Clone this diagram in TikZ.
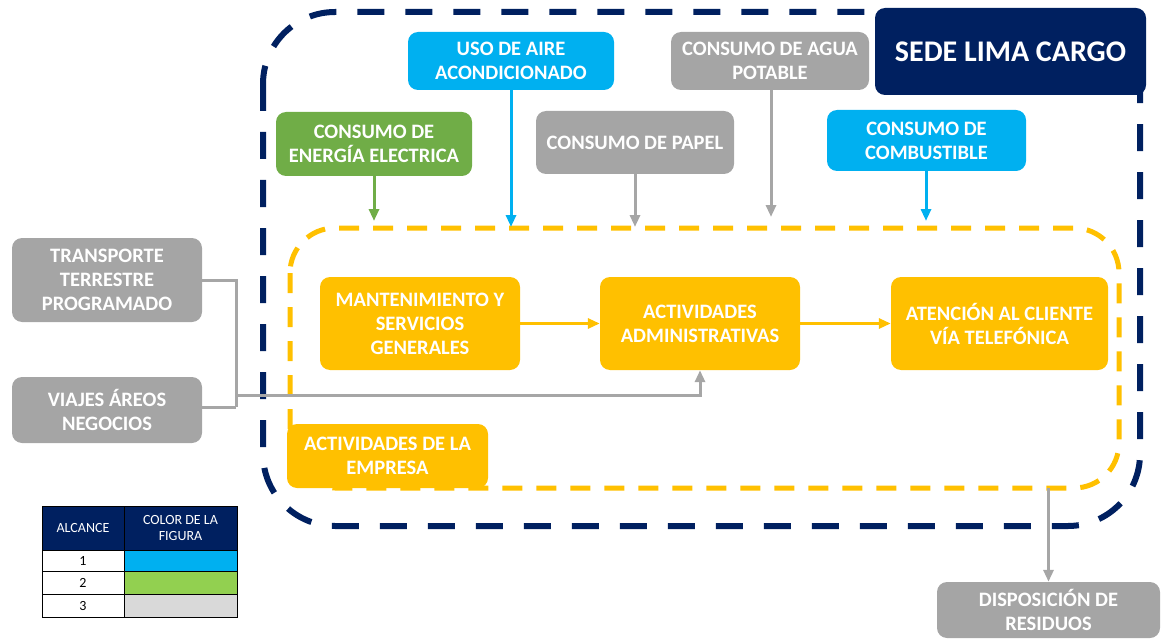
\documentclass[tikz,border=0pt]{standalone}
\usepackage{fontspec}
\setmainfont{Carlito}
\usetikzlibrary{arrows.meta}
\definecolor{navy}{HTML}{002060}
\definecolor{ylw}{HTML}{FFC000}
\definecolor{cyanb}{HTML}{00B0F0}
\definecolor{greenb}{HTML}{70AD47}
\definecolor{grayb}{HTML}{A5A5A5}
\definecolor{grayl}{HTML}{A6A6A6}
\definecolor{lgreen}{HTML}{92D050}
\definecolor{lgray}{HTML}{D9D9D9}
\tikzset{
  box/.style={rounded corners=10pt, inner sep=0pt, text=white, align=center,
    font=\fontsize{20.5}{24}\selectfont\bfseries},
  cbox/.style={box, fill=cyanb},
  gbox/.style={box, fill=greenb},
  graybox/.style={box, fill=grayb},
  ybox/.style={box, fill=ylw},
  tip/.style={-{Triangle[length=12pt,width=10pt]}},
  grayarrow/.style={draw=grayl, line width=3pt, tip},
  lgtext/.style={font=\fontsize{14}{16}\selectfont, align=center, inner sep=0pt},
}
\begin{document}
\begin{tikzpicture}[x=1pt,y=-1pt]
\useasboundingbox (0,0) rectangle (1161,639);
% outer navy dashed frame
\draw[navy, line width=6pt, dash pattern=on 27pt off 21pt, rounded corners=72pt]
  (263,12) rectangle (1140,526);
% inner yellow dashed frame
\draw[ylw, line width=5pt, dash pattern=on 20pt off 14pt, rounded corners=45pt]
  (290,228) rectangle (1119,488);

% title
\node[box, fill=navy, minimum width=271pt, minimum height=87pt,
  font=\fontsize{30}{34}\selectfont\bfseries] (sede) at (1010.5,51.5) {SEDE LIMA CARGO};

% input boxes
\node[cbox, minimum width=206pt, minimum height=58pt] (uso) at (511,61) {USO DE AIRE\\ACONDICIONADO};
\node[gbox, minimum width=196pt, minimum height=64pt] (ene) at (374,144) {CONSUMO DE\\ENERGÍA ELECTRICA};
\node[graybox, minimum width=198pt, minimum height=63pt] (pap) at (635,142.5) {CONSUMO DE PAPEL};
\node[graybox, minimum width=198pt, minimum height=58pt] (agua) at (770,61) {CONSUMO DE AGUA\\POTABLE};
\node[cbox, minimum width=199pt, minimum height=61pt] (comb) at (926.5,140.5) {CONSUMO DE\\COMBUSTIBLE};

\coordinate (tene) at (374,221);
\coordinate (tuso) at (511,227);
\coordinate (tpap) at (635,227);
\coordinate (tagua) at (771,217);
\coordinate (tcomb) at (926,221);
\draw[greenb, line width=3pt, tip] (ene.south) -- (tene);
\draw[cyanb, line width=3pt, tip] (uso.south) -- (tuso);
\draw[grayarrow] (pap.south) -- (tpap);
\draw[grayarrow] (agua.south -| tagua) -- (tagua);
\draw[cyanb, line width=3pt, tip] (comb.south -| tcomb) -- (tcomb);

% activities
\node[ybox, minimum width=200pt, minimum height=93pt] (mant) at (420,323.5) {MANTENIMIENTO Y\\SERVICIOS\\GENERALES};
\node[ybox, minimum width=200pt, minimum height=93pt] (adm) at (700,323.5) {ACTIVIDADES\\ADMINISTRATIVAS};
\node[ybox, minimum width=217pt, minimum height=93pt] (aten) at (999.5,323.5) {ATENCIÓN AL CLIENTE\\VÍA TELEFÓNICA};
\node[ybox, minimum width=201pt, minimum height=64pt] (emp) at (387.5,456) {ACTIVIDADES DE LA\\EMPRESA};
\draw[ylw, line width=3pt, tip] (mant) -- (adm);
\draw[ylw, line width=3pt, tip] (adm) -- (aten);

% left gray inputs
\node[graybox, minimum width=190pt, minimum height=84pt] (tra) at (107,280) {TRANSPORTE\\TERRESTRE\\PROGRAMADO};
\node[graybox, minimum width=190pt, minimum height=66pt] (via) at (107,410) {VIAJES ÁREOS\\NEGOCIOS};
\coordinate (jt) at (236,407);
\coordinate (jm) at (236,395);
\draw[grayl, line width=3pt] (tra.east) -| (jt);
\draw[grayl, line width=3pt] (via.east |- jt) -- (jt);
\draw[grayarrow] (jm) -| (adm.south);

% output
\node[graybox, minimum width=223pt, minimum height=56pt] (disp) at (1048.5,610) {DISPOSICIÓN DE\\RESIDUOS};
\coordinate (ydisp) at (1048.5,488);
\draw[grayarrow] (ydisp) -- (disp.north);

% legend table
\draw[fill=navy, draw=black, line width=1pt] (42,506) rectangle (237,550);
\draw[fill=white, line width=1pt] (42,550) rectangle (124,617);
\draw[fill=cyanb, line width=1pt] (124,550) rectangle (237,571);
\draw[fill=lgreen, line width=1pt] (124,571) rectangle (237,594);
\draw[fill=lgray, line width=1pt] (124,594) rectangle (237,617);
\draw[line width=1pt] (124,506) -- (124,617);
\draw[line width=1pt] (42,571) -- (124,571);
\draw[line width=1pt] (42,594) -- (124,594);
\node[lgtext, text=white] (la) at (83,528) {ALCANCE};
\node[lgtext, text=white] (lc) at (180.5,528) {COLOR DE LA\\FIGURA};
\node[lgtext] (l1) at (83,561) {1};
\node[lgtext] (l2) at (83,583) {2};
\node[lgtext] (l3) at (83,606) {3};
\end{tikzpicture}
\end{document}
